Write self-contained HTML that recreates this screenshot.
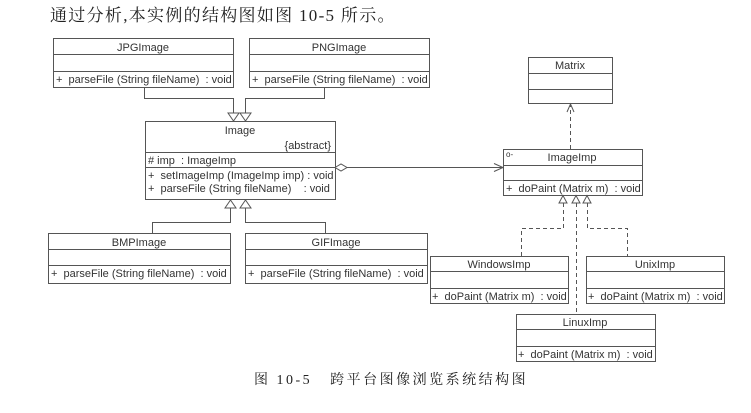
<!DOCTYPE html>
<html><head><meta charset="utf-8"><style>
html,body{margin:0;padding:0;background:#fff;}
svg{display:block;}
text{font-family:"Liberation Sans",sans-serif;font-size:11px;fill:#333;white-space:pre;}
.cn{font-family:"Liberation Serif","Noto Serif CJK SC",serif;fill:#222;}
rect,line,polyline,polygon{stroke:#555;stroke-width:1;fill:none;}
.d{stroke-dasharray:4,3;}
</style></head><body>
<svg width="751" height="413" viewBox="0 0 751 413">
<text class="cn" x="50" y="21" style="font-size:17px;letter-spacing:1.3px">通过分析,本实例的结构图如图 10-5 所示。</text>

<!-- JPGImage -->
<rect x="53.5" y="38.5" width="180" height="49"/>
<line x1="53" y1="54.5" x2="233" y2="54.5"/><line x1="53" y1="71.5" x2="233" y2="71.5"/>
<text x="143" y="51" text-anchor="middle">JPGImage</text>
<text x="56" y="83">+  parseFile (String fileName)  : void</text>
<!-- PNGImage -->
<rect x="249.5" y="38.5" width="180" height="49"/>
<line x1="249" y1="54.5" x2="429" y2="54.5"/><line x1="249" y1="71.5" x2="429" y2="71.5"/>
<text x="339" y="51" text-anchor="middle">PNGImage</text>
<text x="252" y="83">+  parseFile (String fileName)  : void</text>

<polyline points="144.5,88 144.5,98.5 233.5,98.5 233.5,113"/>
<polygon points="228,113 239,113 233.5,121" style="fill:#fff"/>
<polyline points="324.5,88 324.5,98.5 245.5,98.5 245.5,113"/>
<polygon points="240,113 251,113 245.5,121" style="fill:#fff"/>

<!-- Image -->
<rect x="145.5" y="121.5" width="190" height="78"/>
<line x1="145" y1="152.5" x2="335" y2="152.5"/><line x1="145" y1="167.5" x2="335" y2="167.5"/>
<text x="240" y="134" text-anchor="middle">Image</text>
<text x="331" y="149" text-anchor="end">{abstract}</text>
<text x="148" y="164"># imp  : ImageImp</text>
<text x="148" y="179">+  setImageImp (ImageImp imp) : void</text>
<text x="148" y="192">+  parseFile (String fileName)    : void</text>

<!-- aggregation -->
<polygon points="335,167.5 341,164 347,167.5 341,171" style="fill:#fff"/>
<line x1="347" y1="167.5" x2="503" y2="167.5"/>
<polyline points="494,163.5 503,167.5 494,171.5"/>

<!-- BMP / GIF -->
<polygon points="225,208 236,208 230.5,200" style="fill:#fff"/>
<polygon points="240,208 251,208 245.5,200" style="fill:#fff"/>
<polyline points="152.5,233 152.5,222.5 230.5,222.5 230.5,208"/>
<polyline points="325.5,233 325.5,222.5 245.5,222.5 245.5,208"/>
<rect x="48.5" y="233.5" width="182" height="50"/>
<line x1="48" y1="249.5" x2="230" y2="249.5"/><line x1="48" y1="265.5" x2="230" y2="265.5"/>
<text x="139" y="246" text-anchor="middle">BMPImage</text>
<text x="51" y="277">+  parseFile (String fileName)  : void</text>
<rect x="245.5" y="233.5" width="182" height="50"/>
<line x1="245" y1="249.5" x2="427" y2="249.5"/><line x1="245" y1="265.5" x2="427" y2="265.5"/>
<text x="336" y="246" text-anchor="middle">GIFImage</text>
<text x="248" y="277">+  parseFile (String fileName)  : void</text>

<!-- Matrix -->
<rect x="528.5" y="57.5" width="84" height="46"/>
<line x1="528" y1="73.5" x2="612" y2="73.5"/><line x1="528" y1="89.5" x2="612" y2="89.5"/>
<text x="570" y="69" text-anchor="middle">Matrix</text>
<line class="d" x1="570.5" y1="149" x2="570.5" y2="105"/>
<polyline points="567,112 570.5,104 574,112"/>

<!-- ImageImp -->
<rect x="503.5" y="149.5" width="139" height="46"/>
<line x1="503" y1="165.5" x2="642" y2="165.5"/><line x1="503" y1="180.5" x2="642" y2="180.5"/>
<text x="572" y="161" text-anchor="middle">ImageImp</text>
<text x="506" y="157" style="font-size:8px">o-</text>
<text x="506" y="192">+  doPaint (Matrix m)  : void</text>

<polygon points="559,203 567,203 563,195.5" style="fill:#fff"/>
<polygon points="572,203 580,203 576,195.5" style="fill:#fff"/>
<polygon points="583,203 591,203 587,195.5" style="fill:#fff"/>
<polyline class="d" points="563.5,203 563.5,228.5 521.5,228.5 521.5,256"/>
<polyline class="d" points="587.5,203 587.5,228.5 627.5,228.5 627.5,256"/>
<line class="d" x1="576.5" y1="203" x2="576.5" y2="314"/>

<!-- WindowsImp -->
<rect x="430.5" y="256.5" width="138" height="47"/>
<line x1="430" y1="271.5" x2="568" y2="271.5"/><line x1="430" y1="288.5" x2="568" y2="288.5"/>
<text x="499" y="268" text-anchor="middle">WindowsImp</text>
<text x="432" y="300">+  doPaint (Matrix m)  : void</text>
<!-- UnixImp -->
<rect x="586.5" y="256.5" width="138" height="47"/>
<line x1="586" y1="271.5" x2="724" y2="271.5"/><line x1="586" y1="288.5" x2="724" y2="288.5"/>
<text x="655" y="268" text-anchor="middle">UnixImp</text>
<text x="588" y="300">+  doPaint (Matrix m)  : void</text>
<!-- LinuxImp -->
<rect x="516.5" y="314.5" width="139" height="47"/>
<line x1="516" y1="329.5" x2="655" y2="329.5"/><line x1="516" y1="346.5" x2="655" y2="346.5"/>
<text x="585" y="326" text-anchor="middle">LinuxImp</text>
<text x="518" y="358">+  doPaint (Matrix m)  : void</text>

<text class="cn" x="254" y="384" style="font-size:14px;letter-spacing:2.5px">图 10-5   跨平台图像浏览系统结构图</text>
</svg>
</body></html>
